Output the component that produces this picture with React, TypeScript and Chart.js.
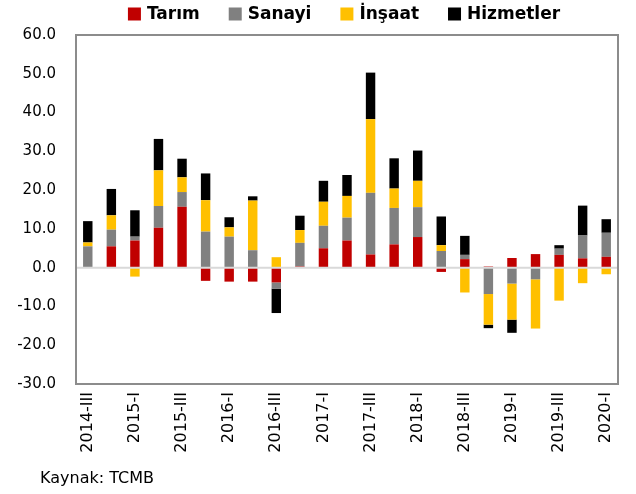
import React, { useEffect, useRef } from "react";
import { Chart, registerables } from "chart.js";

Chart.register(...registerables);

const categories = [
  "2014-III", "2014-IV",
  "2015-I", "2015-II", "2015-III", "2015-IV",
  "2016-I", "2016-II", "2016-III", "2016-IV",
  "2017-I", "2017-II", "2017-III", "2017-IV",
  "2018-I", "2018-II", "2018-III", "2018-IV",
  "2019-I", "2019-II", "2019-III", "2019-IV",
  "2020-I",
];

const tarim = [0, 5.5, 7.0, 10.3, 15.7, -3.4, -3.6, -3.6, -3.8, 0.3, 5.0, 7.0, 3.4, 6.0, 7.9, -1.1, 2.2, 0.3, 2.5, 3.5, 3.3, 2.4, 2.8];
const sanayi = [5.5, 4.3, 1.0, 5.6, 3.8, 9.3, 8.0, 4.5, -1.6, 6.1, 5.8, 5.9, 15.9, 9.4, 7.7, 4.3, 1.1, -6.8, -4.1, -3.0, 1.6, 5.9, 6.2];
const insaat = [1.0, 3.7, -2.3, 9.2, 3.8, 8.1, 2.4, 12.8, 2.7, 3.3, 6.2, 5.6, 19.0, 5.0, 6.8, 1.5, -6.4, -7.9, -9.3, -12.7, -8.5, -4.0, -1.7];
const hizmetler = [5.5, 6.8, 6.8, 8.1, 4.8, 6.9, 2.6, 1.1, -6.3, 3.7, 5.4, 5.4, 12.0, 7.8, 7.8, 7.4, 4.9, -0.9, -3.4, 0, 0.9, 7.7, 3.5];

const seriesNames = ["Tarım", "Sanayi", "İnşaat", "Hizmetler"];
const seriesColors = ["#C00000", "#808080", "#FFC000", "#000000"];

const yMin = -30;
const yMax = 60;
const yStep = 10;
const sourceText = "Kaynak: TCMB";

const FONT = "'DejaVu Sans', sans-serif";

const framePlugin = {
  id: "framePlugin",
  afterDatasetsDraw(chart: any) {
    const { ctx, chartArea, scales } = chart;
    const y0 = scales.y.getPixelForValue(0);
    ctx.save();
    ctx.strokeStyle = "#d9d9d9";
    ctx.lineWidth = 2;
    ctx.beginPath();
    ctx.moveTo(chartArea.left, y0);
    ctx.lineTo(chartArea.right, y0);
    ctx.stroke();
    ctx.strokeStyle = "#8c8c8c";
    ctx.lineWidth = 2;
    ctx.strokeRect(chartArea.left, chartArea.top, chartArea.right - chartArea.left, chartArea.bottom - chartArea.top);
    ctx.restore();
  },
  afterDraw(chart: any) {
    const { ctx } = chart;
    ctx.save();
    // legend
    ctx.font = `bold 17px ${FONT}`;
    ctx.textBaseline = "middle";
    const box = 13;
    const gap = 6;
    const spacing = 29;
    const ds = chart.data.datasets;
    const widths = ds.map((d: any) => box + gap + ctx.measureText(d.label).width);
    const total = widths.reduce((a: number, b: number) => a + b, 0) + spacing * (ds.length - 1);
    let x = 344 - total / 2;
    const yc = 14;
    ds.forEach((d: any, i: number) => {
      ctx.fillStyle = d.backgroundColor;
      ctx.fillRect(x, yc - box / 2, box, box);
      ctx.fillStyle = "#000";
      ctx.textAlign = "left";
      ctx.fillText(d.label, x + box + gap, yc + 1);
      x += widths[i] + spacing;
    });
    // source
    ctx.font = `16px ${FONT}`;
    ctx.textBaseline = "alphabetic";
    ctx.fillStyle = "#000";
    ctx.fillText(sourceText, 40, 483);
    ctx.restore();
  },
};

export default function App() {
  const ref = useRef<HTMLCanvasElement | null>(null);

  useEffect(() => {
    document.body.style.margin = "0";
    if (!ref.current) return;
    const allSeries = [tarim, sanayi, insaat, hizmetler];
    const chart = new Chart(ref.current, {
      type: "bar",
      data: {
        labels: categories,
        datasets: allSeries.map((data, i) => ({
          label: seriesNames[i],
          data,
          backgroundColor: seriesColors[i],
          borderWidth: 0,
          barPercentage: 0.4,
          categoryPercentage: 1,
        })),
      },
      options: {
        responsive: true,
        maintainAspectRatio: false,
        animation: false,
        layout: { padding: { top: 35, right: 18, left: 0, bottom: 0 } },
        plugins: {
          legend: { display: false },
          tooltip: { enabled: false },
        },
        scales: {
          x: {
            stacked: true,
            grid: { display: false, drawTicks: false },
            border: { display: false },
            afterFit: (s: any) => { s.height = 110; },
            ticks: {
              autoSkip: false,
              maxRotation: 90,
              minRotation: 90,
              padding: 8,
              color: "#000",
              font: { family: FONT, size: 16 },
              callback: (_v: any, idx: number) => (idx % 2 === 0 ? categories[idx] : ""),
            },
          },
          y: {
            stacked: true,
            min: yMin,
            max: yMax,
            grid: { display: false, drawTicks: false },
            border: { display: false },
            afterFit: (s: any) => { s.width = 76; },
            ticks: {
              stepSize: yStep,
              padding: 20,
              color: "#000",
              font: { family: FONT, size: 15 },
              callback: (v: any) => Number(v).toFixed(1),
            },
          },
        },
      },
      plugins: [framePlugin],
    });
    return () => chart.destroy();
  }, []);

  return (
    <div style={{ position: "fixed", left: 0, top: 0, width: 636, height: 494 }}>
      <canvas ref={ref} />
    </div>
  );
}
